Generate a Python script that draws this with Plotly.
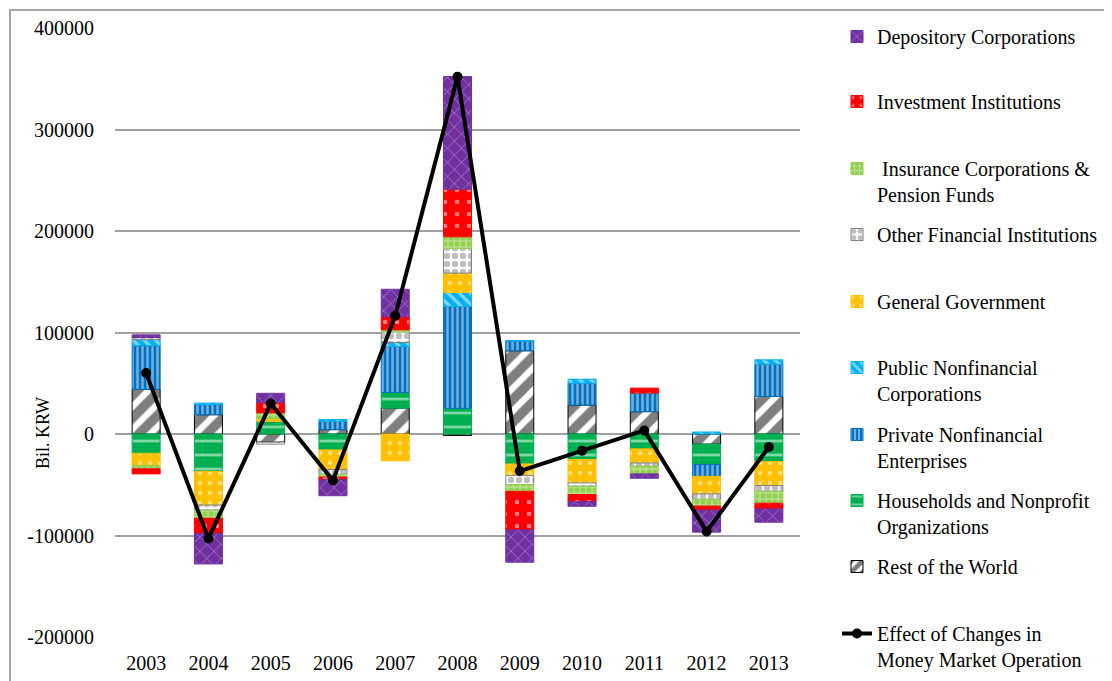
import plotly.graph_objects as go

years = ["2003", "2004", "2005", "2006", "2007", "2008", "2009", "2010", "2011", "2012", "2013"]

rest_of_world = [44000, 19000, -8000, 4300, 25500, -1500, 82000, 28500, 22000, -10000, 37000]
households = [-19000, -37000, 12500, -15700, 15400, 25300, -29500, -25200, -14700, -20000, -27200]
private_nonfin = [43000, 10000, 0, 8300, 45300, 100400, 9800, 21600, 18300, -11700, 31800]
public_nonfin = [6000, 1500, 0, 1700, 3900, 13800, 0, 3900, 0, 2000, 4300]
general_gov = [-12000, -33000, 2700, -19300, -26500, 19000, -11500, -23000, -13800, -17300, -23600]
other_fin = [2000, -5000, -2000, -4700, 10500, 24300, -8900, -3300, -3300, -5300, -5600]
insurance = [-3300, -8000, 5600, -2700, 2000, 11500, -6600, -8200, -7500, -6700, -11800]
investment = [-5000, -15000, 10000, -2700, 12800, 46900, -38000, -6900, 4900, -4000, -5600]
depository = [2700, -30000, 9300, -15700, 27200, 110900, -31800, -4600, -4300, -21700, -13100]
effect = [60000, -103000, 30000, -45700, 116500, 352000, -36500, -16500, 3500, -96000, -12800]

y_ticks = [-200000, -100000, 0, 100000, 200000, 300000, 400000]
y_tick_text = ["-200000", "-100000", "0", "100000", "200000", "300000", "400000"]

FONT = "Liberation Serif"

# the page body adds an 8px offset; positions below are screen pixels
OFF = 8
PL, PR, PT, PB = 115, 800, 28, 637


def px_x(x):
    return (x - PL) / (PR - PL)


def px_y(y):
    return (PB - y) / (PB - PT)


# stacking order bottom -> top, with legend slot (1 = top of legend)
bars = [
    ("Rest of the World", rest_of_world, "white", "black", "/", 0.6, 16, "black", 9),
    ("Households and Nonprofit<br>Organizations", households, "#00B050", "white", "-", 0.2, 14, "#00B050", 8),
    ("Private Nonfinancial<br>Enterprises", private_nonfin, "#0070C0", "#E3EEF9", "|", 0.5, 5, "#0070C0", 7),
    ("Public Nonfinancial<br>Corporations", public_nonfin, "#00B0F0", "white", "\\", 0.4, 8, "#00B0F0", 6),
    ("General Government", general_gov, "#FFC000", "white", ".", 0.15, 10, "#FFC000", 5),
    ("Other Financial Institutions", other_fin, "white", "#808080", ".", 0.5, 8, "#808080", 4),
    (" Insurance Corporations &<br>Pension Funds", insurance, "#92D050", "white", "+", 0.3, 6, "#92D050", 3),
    ("Investment Institutions", investment, "#FF0000", "white", ".", 0.12, 12, "#FF0000", 2),
    ("Depository Corporations", depository, "#7030A0", "white", "x", 0.12, 10, "#7030A0", 1),
]

fig = go.Figure()

for name, vals, bg, fg, shape, sol, size, edge, slot in bars:
    fig.add_trace(go.Bar(
        x=years, y=vals, name=name,
        legend="legend" if slot == 1 else f"legend{slot}",
        marker=dict(color=bg, line=dict(color=edge, width=1),
                    pattern=dict(shape=shape, bgcolor=bg, fgcolor=fg,
                                 solidity=sol, size=size, fillmode="overlay")),
    ))

fig.add_trace(go.Scatter(
    x=years, y=effect, name="Effect of Changes in<br>Money Market Operation",
    mode="lines+markers", legend="legend10",
    line=dict(color="black", width=4), marker=dict(color="black", size=10),
))

# first-line centre of each legend entry, in pixels
legend_centres = [38, 103, 170, 236, 303, 369, 436, 502, 568, 635]
legends = {}
for i, c in enumerate(legend_centres, start=1):
    key = "legend" if i == 1 else f"legend{i}"
    legends[key] = dict(x=px_x(837), y=px_y(c - 21), xanchor="left", yanchor="top",
                        font=dict(family=FONT, size=20, color="black"),
                        bgcolor="rgba(0,0,0,0)", valign="top")

W, H = 1112, 681
fig.update_layout(
    width=W, height=H,
    margin=dict(l=PL - OFF, r=W - (PR - OFF), t=PT - OFF, b=H - (PB - OFF), autoexpand=False),
    paper_bgcolor="white", plot_bgcolor="white",
    barmode="relative", bargap=0.55, showlegend=True,
    font=dict(family=FONT, size=20, color="black"),
    **legends,
)

fig.update_xaxes(range=[-0.5, len(years) - 0.5], showgrid=False, showline=False,
                 ticks="", ticklabelstandoff=12, tickfont=dict(family=FONT, size=20))
fig.update_yaxes(range=[-200000, 400000], tickvals=y_ticks, ticktext=y_tick_text,
                 showgrid=True, gridcolor="#A0A0A0", gridwidth=1.5,
                 zeroline=True, zerolinecolor="#A0A0A0", zerolinewidth=1.5,
                 showline=False, ticks="", ticklabelstandoff=20,
                 tickfont=dict(family=FONT, size=20))

fig.add_annotation(text="Bil. KRW", textangle=-90, xref="paper", yref="paper",
                   x=px_x(43), y=px_y(433), xanchor="center", yanchor="middle",
                   showarrow=False, font=dict(family=FONT, size=18, color="black"))

# chart area border (top/left edges visible inside the figure)
fig.add_shape(type="rect", xref="paper", yref="paper",
              x0=px_x(10), x1=px_x(1130), y0=px_y(700), y1=px_y(10),
              line=dict(color="#A6A6A6", width=2), fillcolor="rgba(0,0,0,0)", layer="below")

fig.write_html("out.html")
